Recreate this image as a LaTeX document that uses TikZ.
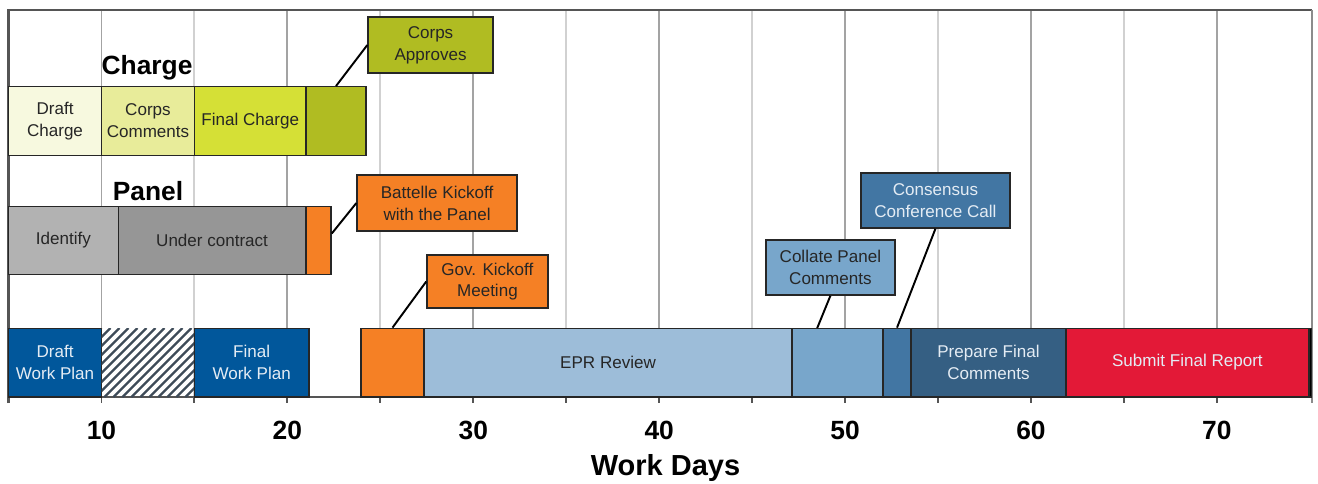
\documentclass[tikz,border=0pt]{standalone}
\usepackage{fontspec}
\setmainfont{Liberation Sans}
\usetikzlibrary{positioning}
\definecolor{chargepale}{RGB}{247,249,223}
\definecolor{chargelight}{RGB}{232,236,154}
\definecolor{chargemid}{RGB}{213,224,54}
\definecolor{chargedark}{RGB}{176,188,34}
\definecolor{panellight}{RGB}{178,178,178}
\definecolor{paneldark}{RGB}{150,150,150}
\definecolor{kickoff}{RGB}{245,128,37}
\definecolor{planblue}{RGB}{1,87,155}
\definecolor{hatchgray}{RGB}{62,75,88}
\definecolor{eprblue}{RGB}{157,189,217}
\definecolor{collateblue}{RGB}{120,166,203}
\definecolor{consensusblue}{RGB}{66,118,163}
\definecolor{prepareblue}{RGB}{53,95,131}
\definecolor{submitred}{RGB}{227,25,55}
\definecolor{framegray}{RGB}{85,85,85}
\definecolor{lighttext}{RGB}{228,236,244}

\begin{document}
\begin{tikzpicture}[x=0.3718cm,y=-0.02cm,every node/.style={font=\fontsize{9.7}{12.4}\selectfont},
    bar/.style={draw=black!85,line width=.8pt,inner sep=0pt,align=center,text=black!85,minimum height=1.37cm},
    days/.style={minimum width=#1*0.3718cm},
    callout/.style={draw=black!85,line width=.8pt,inner sep=0pt,align=center,text=black!85,minimum height=1.1cm},
    link/.style={black,line width=1.1pt},
    gridminor/.style={black!18,line width=1.1pt},
    gridmajor/.style={black!36,line width=1.1pt},
    rowtitle/.style={anchor=base,font=\fontsize{15}{18}\selectfont\bfseries},
    daylabel/.style={anchor=base,font=\fontsize{15}{18}\selectfont\bfseries}]
    \useasboundingbox (4.54,0) rectangle (75.44,483);
    \foreach \d in {15,25,...,65} \draw[gridminor] (\d,10) -- (\d,397);
    \foreach \d in {10,20,...,70} \draw[gridmajor] (\d,10) -- (\d,397);
    \draw[framegray,line width=1.2pt] (5,403) -- (5,10) -- (75.1,10);
    \draw[black!45,line width=1.1pt] (75.1,10) -- (75.1,403);
    \foreach \d in {10,15,...,70} \draw[framegray,line width=1.1pt] (\d,397) -- (\d,403);
    \node[rowtitle] (chargetitle) at (12.45,74) {Charge};
    \node[bar,days=5,fill=chargepale] (draftcharge) at (7.5,121) {Draft\\Charge};
    \node[bar,days=5,fill=chargelight] (corpscomments) at (12.5,121) {Corps\\Comments};
    \node[bar,days=6,fill=chargemid] (finalcharge) at (18,121) {Final Charge};
    \node[bar,days=3.23,fill=chargedark] (approvebar) at (22.615,121) {};
    \node[rowtitle] (paneltitle) at (12.5,200) {Panel};
    \node[bar,days=5.9,fill=panellight] (identify) at (7.95,240.5) {Identify};
    \node[bar,days=10.1,fill=paneldark] (undercontract) at (15.95,240.5) {Under contract};
    \node[bar,days=1.35,fill=kickoff] (panelkickbar) at (21.675,240.5) {};
    \draw[framegray,line width=1.2pt] (5,397) -- (75.1,397);
    \node[bar,days=5,fill=planblue,text=lighttext] (draftplan) at (7.5,362.5) {Draft\\Work Plan};
    \begin{scope}
      \clip (10,328) rectangle (15,397);
      \foreach \k in {0,...,19} \draw[hatchgray,line width=1.3pt] (6.29+\k*0.484,397) -- ++(3.712,-69);
    \end{scope}
    \node[bar,days=6.16,fill=planblue,text=lighttext] (finalplan) at (18.08,362.5) {Final\\Work Plan};
    \node[bar,days=3.39,fill=kickoff] (govkickbar) at (25.655,362.5) {};
    \node[bar,days=19.8,fill=eprblue] (eprreview) at (37.25,362.5) {EPR Review};
    \node[bar,days=4.89,fill=collateblue] (collatebar) at (49.595,362.5) {};
    \node[bar,days=1.51,fill=consensusblue] (consensusbar) at (52.795,362.5) {};
    \node[bar,days=8.33,fill=prepareblue,text=lighttext] (preparefinal) at (57.715,362.5) {Prepare Final\\Comments};
    \node[bar,days=13.07,fill=submitred,text=lighttext] (submitfinal) at (68.415,362.5) {Submit Final Report};
    \node[bar,days=0.15,fill=black] (endmark) at (75.025,362.5) {};
    \coordinate (collatefoot) at (48.5,328);
    \node[callout,fill=chargedark,minimum width=2.5cm,minimum height=1.12cm] (corpsapproves) at (27.7,45) {Corps\\Approves};
    \node[callout,fill=kickoff,minimum width=3.2cm,minimum height=1.12cm] (panelkickoff) at (28.05,203) {Battelle Kickoff\\with the Panel};
    \node[callout,fill=kickoff,minimum width=2.42cm,minimum height=1.06cm] (govkickoff) at (30.76,281.5) {Gov. Kickoff\\Meeting};
    \node[callout,fill=collateblue,minimum width=2.58cm] (collate) at (49.21,267.5) {Collate Panel\\Comments};
    \node[callout,fill=consensusblue,text=lighttext,minimum width=2.98cm] (consensus) at (54.86,200.5) {Consensus\\Conference Call};
    \draw[link] (approvebar.north) -- (corpsapproves.west);
    \draw[link] ([yshift=4pt]panelkickbar.east) -- (panelkickoff.west);
    \draw[link] (govkickbar.north) -- (govkickoff.west);
    \draw[link] (collatefoot) -- (collate.south);
    \draw[link] (consensusbar.north) -- (consensus.south);
    \foreach \d in {10,20,...,70} \node[daylabel] (day\d) at (\d,439) {\d};
    \node[anchor=base,font=\fontsize{16.5}{20}\selectfont\bfseries] (axistitle) at (40.34,475) {Work Days};
  \end{tikzpicture}
\end{document}
